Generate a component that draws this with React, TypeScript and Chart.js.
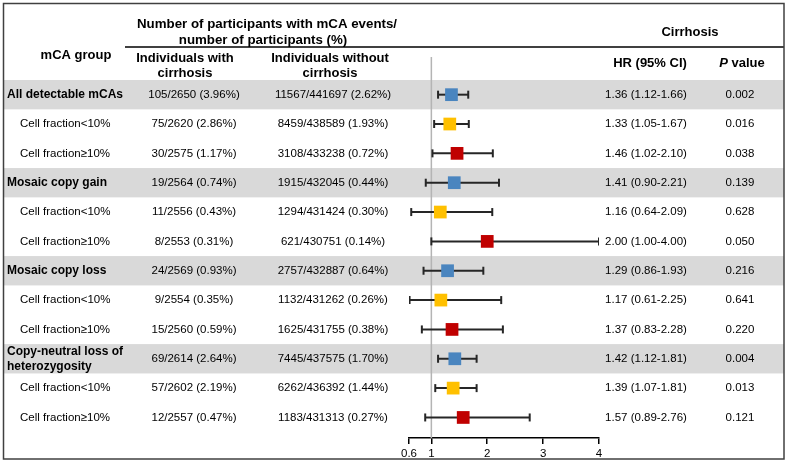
import React, { useEffect, useRef } from "react";
import { Chart, registerables } from "chart.js";

Chart.register(...registerables);

const groups = [
  "All detectable mCAs",
  "Cell fraction<10%",
  "Cell fraction≥10%",
  "Mosaic copy gain",
  "Cell fraction<10%",
  "Cell fraction≥10%",
  "Mosaic copy loss",
  "Cell fraction<10%",
  "Cell fraction≥10%",
  "Copy-neutral loss of\nheterozygosity",
  "Cell fraction<10%",
  "Cell fraction≥10%",
];
const rowKind = ["all", "lt", "ge", "all", "lt", "ge", "all", "lt", "ge", "all", "lt", "ge"];
const withCirrhosis = [
  "105/2650 (3.96%)",
  "75/2620 (2.86%)",
  "30/2575 (1.17%)",
  "19/2564 (0.74%)",
  "11/2556 (0.43%)",
  "8/2553 (0.31%)",
  "24/2569 (0.93%)",
  "9/2554 (0.35%)",
  "15/2560 (0.59%)",
  "69/2614 (2.64%)",
  "57/2602 (2.19%)",
  "12/2557 (0.47%)",
];
const withoutCirrhosis = [
  "11567/441697 (2.62%)",
  "8459/438589 (1.93%)",
  "3108/433238 (0.72%)",
  "1915/432045 (0.44%)",
  "1294/431424 (0.30%)",
  "621/430751 (0.14%)",
  "2757/432887 (0.64%)",
  "1132/431262 (0.26%)",
  "1625/431755 (0.38%)",
  "7445/437575 (1.70%)",
  "6262/436392 (1.44%)",
  "1183/431313 (0.27%)",
];
const hr = [1.36, 1.33, 1.46, 1.41, 1.16, 2.0, 1.29, 1.17, 1.37, 1.42, 1.39, 1.57];
const ciLow = [1.12, 1.05, 1.02, 0.9, 0.64, 1.0, 0.86, 0.61, 0.83, 1.12, 1.07, 0.89];
const ciHigh = [1.66, 1.67, 2.1, 2.21, 2.09, 4.0, 1.93, 2.25, 2.28, 1.81, 1.81, 2.76];
const pValues = ["0.002", "0.016", "0.038", "0.139", "0.628", "0.050", "0.216", "0.641", "0.220", "0.004", "0.013", "0.121"];
const xTicks = [0.6, 1, 2, 3, 4];

const kindColor: Record<string, string> = { all: "#4a85bf", lt: "#ffc000", ge: "#c00000" };
const FONT = "'Liberation Sans', Arial, sans-serif";

const tablePlugin = {
  id: "tablePlugin",
  beforeDraw(chart: any) {
    const { ctx, width, height } = chart;
    const y = chart.scales.y;
    ctx.save();
    ctx.fillStyle = "#ffffff";
    ctx.fillRect(0, 0, width, height);
    const step = Math.abs(y.getPixelForValue(1) - y.getPixelForValue(0));
    ctx.fillStyle = "#d9d9d9";
    rowKind.forEach((k, i) => {
      if (k === "all") {
        const cy = y.getPixelForValue(i);
        ctx.fillRect(4, cy - step / 2, 780, step);
      }
    });
    ctx.restore();
  },
  beforeDatasetsDraw(chart: any) {
    const { ctx } = chart;
    const x = chart.scales.x;
    ctx.save();
    ctx.strokeStyle = "#b4b4b4";
    ctx.lineWidth = 1.5;
    const px = x.getPixelForValue(1);
    ctx.beginPath();
    ctx.moveTo(px, 57);
    ctx.lineTo(px, chart.chartArea.bottom);
    ctx.stroke();
    ctx.restore();
  },
  afterDraw(chart: any) {
    const { ctx } = chart;
    const y = chart.scales.y;
    ctx.save();
    ctx.fillStyle = "#000";
    ctx.textBaseline = "middle";
    // headers
    ctx.font = `bold 13px ${FONT}`;
    ctx.textAlign = "center";
    ctx.fillText("mCA group", 76, 55);
    ctx.font = `bold 13.3px ${FONT}`;
    ctx.fillText("Number of participants with mCA events/", 267, 24);
    ctx.fillText("number of participants (%)", 263, 40);
    ctx.font = `bold 13px ${FONT}`;
    ctx.fillText("Individuals with", 185, 58);
    ctx.fillText("cirrhosis", 185, 73);
    ctx.fillText("Individuals without", 330, 58);
    ctx.fillText("cirrhosis", 330, 73);
    ctx.fillText("Cirrhosis", 690, 32);
    ctx.fillText("HR (95% CI)", 650, 63);
    // P value
    ctx.font = `italic bold 13px ${FONT}`;
    const pw = ctx.measureText("P").width;
    ctx.font = `bold 13px ${FONT}`;
    const vw = ctx.measureText(" value").width;
    const start = 742 - (pw + vw) / 2;
    ctx.textAlign = "left";
    ctx.font = `italic bold 13px ${FONT}`;
    ctx.fillText("P", start, 63);
    ctx.font = `bold 13px ${FONT}`;
    ctx.fillText(" value", start + pw, 63);
    // header line
    ctx.strokeStyle = "#000";
    ctx.lineWidth = 1.3;
    ctx.beginPath();
    ctx.moveTo(125, 47);
    ctx.lineTo(784, 47);
    ctx.stroke();
    // rows
    groups.forEach((g, i) => {
      const cy = y.getPixelForValue(i);
      const header = rowKind[i] === "all";
      ctx.textAlign = "left";
      if (header) {
        ctx.font = `bold 12px ${FONT}`;
        const lines = g.split("\n");
        if (lines.length === 1) ctx.fillText(lines[0], 7, cy);
        else {
          ctx.fillText(lines[0], 7, cy - 7.5);
          ctx.fillText(lines[1], 7, cy + 7.5);
        }
      } else {
        ctx.font = `11.5px ${FONT}`;
        ctx.fillText(g, 20, cy);
      }
      ctx.font = `11.5px ${FONT}`;
      ctx.textAlign = "center";
      ctx.fillText(withCirrhosis[i], 194, cy);
      ctx.fillText(withoutCirrhosis[i], 333, cy);
      ctx.fillText(`${hr[i].toFixed(2)} (${ciLow[i].toFixed(2)}-${ciHigh[i].toFixed(2)})`, 646, cy);
      ctx.fillText(pValues[i], 740, cy);
    });
    // outer border
    ctx.strokeStyle = "#404040";
    ctx.lineWidth = 1.5;
    ctx.strokeRect(3.5, 3.5, 780.5, 455.5);
    ctx.restore();
  },
};

export default function App() {
  const ref = useRef<HTMLCanvasElement | null>(null);
  useEffect(() => {
    document.body.style.margin = "0";
    if (!ref.current) return;
    const errorSets = hr.map((_, i) => ({
      type: "scatter" as const,
      data: [
        { x: ciLow[i], y: i },
        { x: ciHigh[i], y: i },
      ],
      showLine: true,
      borderColor: "#262626",
      borderWidth: 2,
      pointStyle: "line" as const,
      rotation: 90,
      pointRadius: 4,
      pointBorderWidth: 2,
      pointBorderColor: "#262626",
      order: 2,
    }));
    const squares = {
      type: "scatter" as const,
      data: hr.map((v, i) => ({ x: v, y: i })),
      pointStyle: "rect" as const,
      pointRadius: 9,
      pointBackgroundColor: rowKind.map((k) => kindColor[k]),
      pointBorderWidth: 0,
      borderWidth: 0,
      order: 1,
    };
    const chart = new Chart(ref.current, {
      type: "scatter",
      data: { datasets: [...errorSets, squares] as any },
      options: {
        animation: false,
        responsive: false,
        layout: { padding: { left: 409, right: 188, top: 80, bottom: 0 } },
        plugins: { legend: { display: false }, tooltip: { enabled: false } },
        scales: {
          x: {
            type: "linear",
            min: 0.6,
            max: 4,
            afterBuildTicks: (scale: any) => {
              scale.ticks = xTicks.map((v) => ({ value: v }));
            },
            afterFit: (scale: any) => {
              scale.height = 25;
            },
            grid: { display: true, drawOnChartArea: false, drawTicks: true, tickLength: 6, color: "#000", lineWidth: 1.5 },
            border: { display: true, color: "#000", width: 1.5 },
            ticks: {
              color: "#000",
              font: { family: FONT, size: 11.5 },
              padding: 3,
              autoSkip: false,
              maxRotation: 0,
              callback: (v: any) => String(v),
            },
          },
          y: {
            type: "linear",
            display: false,
            reverse: true,
            min: -0.5,
            max: 11.7,
          },
        },
      },
      plugins: [tablePlugin],
    });
    return () => chart.destroy();
  }, []);
  return (
    <div style={{ width: 787, height: 463 }}>
      <canvas ref={ref} width={787} height={463} style={{ display: "block" }} />
    </div>
  );
}
